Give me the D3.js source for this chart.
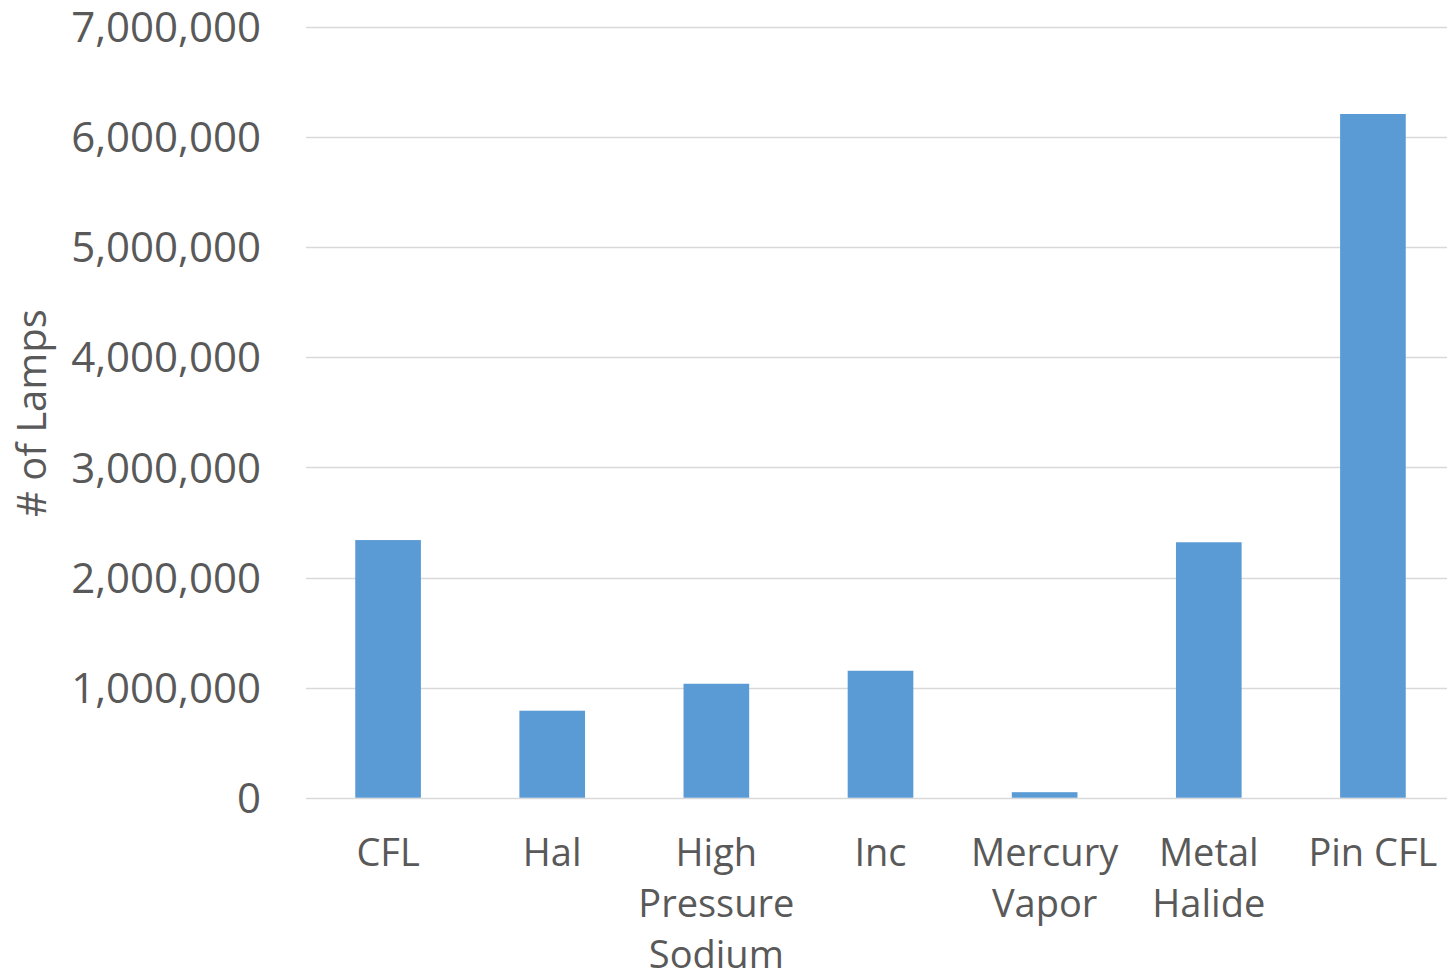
<!DOCTYPE html>
<head>
  <meta charset="utf-8">
  <style>
    body { margin: 0; background: #fff; font-family: "Open Sans"; }
  </style>
</head>
<svg width="1447" height="973"></svg>
<script src="https://d3js.org/d3.v7.min.js"></script>
<script>
  const categories = ["CFL", "Hal", "High Pressure Sodium", "Inc", "Mercury Vapor", "Metal Halide", "Pin CFL"];
  const labelLines = [["CFL"], ["Hal"], ["High", "Pressure", "Sodium"], ["Inc"], ["Mercury", "Vapor"], ["Metal", "Halide"], ["Pin CFL"]];
  const lamps = [2340000, 790000, 1035000, 1153000, 50000, 2320000, 6210000];
  const yTicks = [0, 1000000, 2000000, 3000000, 4000000, 5000000, 6000000, 7000000];

  const svg = d3.select("svg");

  const x = d3.scaleBand()
    .domain(categories)
    .range([306, 1455])
    .paddingInner(0.6)
    .paddingOuter(0.3);

  const y = d3.scaleLinear()
    .domain([0, 7000000])
    .range([797.7, 27]);

  const fmt = d3.format(",");

  // gridlines
  svg.append("g")
    .selectAll("line")
    .data(yTicks)
    .enter().append("line")
    .attr("x1", 306)
    .attr("x2", 1447)
    .attr("y1", d => Math.round(y(d)) + 0.5)
    .attr("y2", d => Math.round(y(d)) + 0.5)
    .style("stroke", "#d9d9d9")
    .style("stroke-width", "1.5px");

  // y tick labels
  svg.append("g")
    .selectAll("text")
    .data(yTicks)
    .enter().append("text")
    .attr("x", 261)
    .attr("y", d => y(d))
    .attr("dy", "0.36em")
    .attr("text-anchor", "end")
    .style("font-size", "42px")
    .style("fill", "#595959")
    .text(d => fmt(d));

  // bars
  svg.append("g")
    .selectAll("rect")
    .data(lamps)
    .enter().append("rect")
    .attr("x", (d, i) => x(categories[i]))
    .attr("width", x.bandwidth())
    .attr("y", d => y(d))
    .attr("height", d => y(0) - y(d))
    .style("fill", "#5b9bd5");

  // x labels
  const xl = svg.append("g")
    .selectAll("text")
    .data(categories)
    .enter().append("text")
    .attr("text-anchor", "middle")
    .attr("x", d => x(d) + x.bandwidth() / 2)
    .attr("y", 866)
    .style("font-size", "38px")
    .style("fill", "#595959");

  xl.selectAll("tspan")
    .data((d, i) => labelLines[i].map(t => ({ t: t, cx: x(d) + x.bandwidth() / 2 })))
    .enter().append("tspan")
    .attr("x", d => d.cx)
    .attr("dy", (d, i) => i === 0 ? 0 : 51)
    .text(d => d.t);

  // y axis title
  svg.append("text")
    .attr("transform", "translate(46,413) rotate(-90)")
    .attr("text-anchor", "middle")
    .style("font-size", "40px")
    .style("fill", "#595959")
    .text("# of Lamps");
</script>
